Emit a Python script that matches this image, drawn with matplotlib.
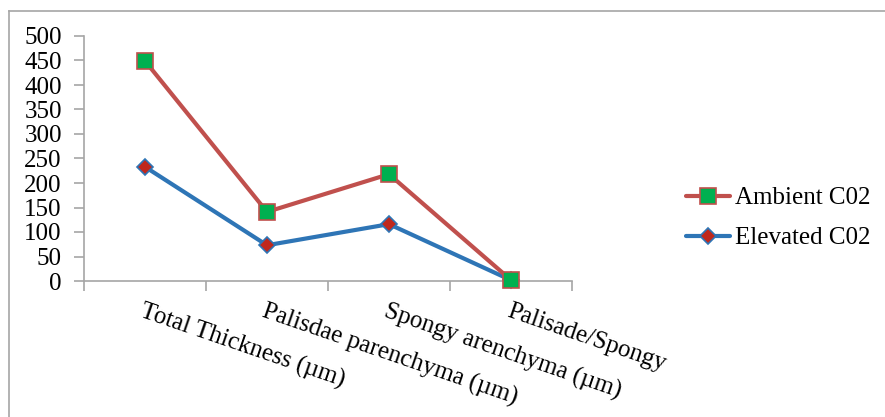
import matplotlib
matplotlib.use("Agg")
import matplotlib.pyplot as plt
from matplotlib.lines import Line2D

categories = ["Total Thickness (µm)", "Palisdae parenchyma (µm)",
              "Spongy arenchyma (µm)", "Palisade/Spongy"]
ambient = [449, 141, 218, 1.9]
elevated = [233, 73, 116, 1.7]
series_names = ["Ambient C02", "Elevated C02"]
y_ticks = list(range(0, 501, 50))

plt.rcParams['font.family'] = ['Liberation Serif', 'DejaVu Serif']

W, H = 885, 417
fig = plt.figure(figsize=(W / 100, H / 100), dpi=100)
ax = fig.add_axes([84 / W, (H - 281) / H, (572 - 84) / W, (281 - 36) / H])

x = [i + 0.5 for i in range(len(categories))]
red = '#C0504D'
blue = '#2E75B6'
ax.plot(x, ambient, color=red, lw=3.0, marker='s', markersize=11,
        markerfacecolor='#00B050', markeredgecolor=red, markeredgewidth=1.2,
        label=series_names[0], zorder=3, solid_capstyle='round')
ax.plot(x, elevated, color=blue, lw=3.0, marker='D', markersize=8.5,
        markerfacecolor='#C0281C', markeredgecolor=blue, markeredgewidth=1.2,
        label=series_names[1], zorder=2, solid_capstyle='round')

ax.set_xlim(0, len(categories))
ax.set_ylim(0, 500)
ax.set_yticks(y_ticks)
ax.set_xticks(range(len(categories) + 1))
ax.set_xticklabels([])
ax.set_xticks(x, minor=True)
ax.set_xticklabels(categories, minor=True, rotation=-19, ha='left', va='top',
                   rotation_mode='anchor', fontsize=18)
ax.tick_params(axis='x', which='minor', length=0, pad=14)
ax.tick_params(axis='x', which='major', length=7, width=1.2, color='#A6A6A6', direction='out')
ax.tick_params(axis='y', length=7, width=1.2, color='#A6A6A6', pad=9, labelsize=18)
for l in ax.get_lines():
    l.set_clip_on(False)

for s in ['top', 'right']:
    ax.spines[s].set_visible(False)
for s in ['left', 'bottom']:
    ax.spines[s].set_color('#A6A6A6')
    ax.spines[s].set_linewidth(1.2)

leg = fig.legend(loc='center left', bbox_to_anchor=(686 / W, 1 - 218 / H),
                 frameon=False, fontsize=18, handlelength=1.75, handletextpad=0.2,
                 labelspacing=0.7, borderpad=0, borderaxespad=0)

# outer chart border (top and left visible)
fig.add_artist(Line2D([9 / W, 1.0], [1 - 11 / H, 1 - 11 / H], color='#A6A6A6', lw=1.2))
fig.add_artist(Line2D([9 / W, 9 / W], [0, 1 - 11 / H], color='#A6A6A6', lw=1.2))

fig.savefig('out.png', dpi=100)
